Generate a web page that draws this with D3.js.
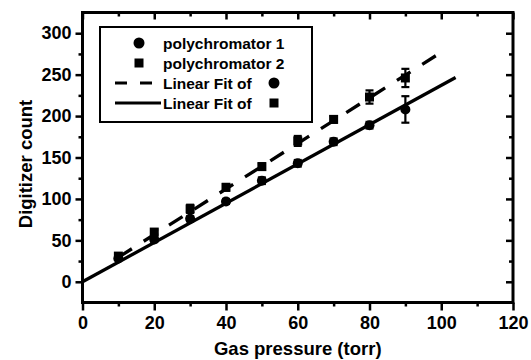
<!DOCTYPE html>
<html><head><meta charset="utf-8">
<script src="https://cdn.jsdelivr.net/npm/d3@7"></script>
<style>body{margin:0;background:#fff}svg text{font-family:"Liberation Sans",Arial,sans-serif;font-weight:bold;fill:#000}</style>
</head><body>
<svg id="c" width="531" height="360"></svg>
<script>
const pressure = [10, 20, 30, 40, 50, 60, 70, 80, 90];
const poly1 = [28, 51, 76, 97, 122, 143, 169, 189, 208];
const poly1Err = [2, 3, 3, 3, 4, 4, 4, 4, 16];
const poly2 = [31, 60, 88, 114, 139, 170, 196, 223, 246];
const poly2Err = [2, 3, 5, 4, 4, 6, 4, 8, 11];
const fitSolid = {slope: 2.37, intercept: 0, x0: 0, x1: 104};
const fitDashed = {slope: 2.75, intercept: 2, x0: 10, x1: 101};
const xTicks = [0, 20, 40, 60, 80, 100, 120];
const xMinor = [10, 30, 50, 70, 90, 110];
const yTicks = [0, 50, 100, 150, 200, 250, 300];
const yMinor = [25, 75, 125, 175, 225, 275];
const legendLabels = ["polychromator 1", "polychromator 2", "Linear Fit of", "Linear Fit of"];

const svg = d3.select("#c");
const L = 82.5, R = 513, T = 12.5, B = 302.5;
const x = d3.scaleLinear().domain([0, 120]).range([L, R]);
const y = d3.scaleLinear().domain([-25, 325]).range([B, T]);

// axes
svg.append("g").attr("transform", `translate(0,${B})`)
  .call(d3.axisBottom(x).tickValues(xTicks).tickSize(8).tickPadding(6));
svg.append("g").attr("transform", `translate(0,${B})`)
  .call(d3.axisBottom(x).tickValues(xMinor).tickSize(4).tickFormat(""));
svg.append("g").attr("transform", `translate(${L},0)`)
  .call(d3.axisLeft(y).tickValues(yTicks).tickSize(7).tickPadding(4));
svg.append("g").attr("transform", `translate(${L},0)`)
  .call(d3.axisLeft(y).tickValues(yMinor).tickSize(4).tickFormat(""));
svg.append("g").attr("transform", `translate(0,${T})`)
  .call(d3.axisBottom(x).tickValues(xTicks).tickSize(7).tickFormat(""));
svg.append("g").attr("transform", `translate(0,${T})`)
  .call(d3.axisBottom(x).tickValues(xMinor).tickSize(4).tickFormat(""));
svg.append("g").attr("transform", `translate(${R},0)`)
  .call(d3.axisLeft(y).tickValues(yTicks).tickSize(7).tickFormat(""));
svg.append("g").attr("transform", `translate(${R},0)`)
  .call(d3.axisLeft(y).tickValues(yMinor).tickSize(4).tickFormat(""));
svg.selectAll(".domain").remove();
svg.selectAll(".tick line").attr("stroke", "#000").attr("stroke-width", 2.5);
svg.selectAll(".tick text").style("font-size", "18px").style("font-family", '"Liberation Sans",Arial,sans-serif').style("font-weight", "bold");

svg.append("rect").attr("x", L).attr("y", T).attr("width", R - L).attr("height", B - T)
  .attr("fill", "none").attr("stroke", "#000").attr("stroke-width", 3);

// titles
svg.append("text").attr("x", (L + R) / 2).attr("y", 355).attr("text-anchor", "middle")
  .style("font-size", "18.5px").text("Gas pressure (torr)");
svg.append("text").attr("transform", "translate(32,164) rotate(-90)").attr("text-anchor", "middle")
  .style("font-size", "18.5px").text("Digitizer count");

// fit lines
const line = d3.line().x(d => x(d[0])).y(d => y(d[1]));
function fitPts(f){ return [[f.x0, f.intercept + f.slope * f.x0], [f.x1, f.intercept + f.slope * f.x1]]; }
svg.append("path").attr("d", line(fitPts(fitSolid))).attr("stroke", "#000").attr("stroke-width", 3.3).attr("fill", "none");
svg.append("path").attr("d", line(fitPts(fitDashed))).attr("stroke", "#000").attr("stroke-width", 3.3)
  .attr("stroke-dasharray", "16,14").attr("fill", "none");

// error bars
function errorBars(vals, errs){
  const g = svg.append("g").attr("stroke", "#000").attr("stroke-width", 2.2);
  pressure.forEach((p, i) => {
    const cx = x(p), y1 = y(vals[i] - errs[i]), y2 = y(vals[i] + errs[i]);
    g.append("line").attr("x1", cx).attr("x2", cx).attr("y1", y1).attr("y2", y2);
    g.append("line").attr("x1", cx - 4).attr("x2", cx + 4).attr("y1", y1).attr("y2", y1);
    g.append("line").attr("x1", cx - 4).attr("x2", cx + 4).attr("y1", y2).attr("y2", y2);
  });
}
errorBars(poly1, poly1Err);
errorBars(poly2, poly2Err);

// markers
svg.append("g").selectAll("circle").data(pressure).join("circle")
  .attr("cx", d => x(d)).attr("cy", (d, i) => y(poly1[i])).attr("r", 5).attr("fill", "#000");
svg.append("g").selectAll("rect").data(pressure).join("rect")
  .attr("x", d => x(d) - 4.5).attr("y", (d, i) => y(poly2[i]) - 4.5).attr("width", 9).attr("height", 9).attr("fill", "#000");

// legend
const lg = svg.append("g");
lg.append("rect").attr("x", 100).attr("y", 27).attr("width", 212).attr("height", 95)
  .attr("fill", "#fff").attr("stroke", "#000").attr("stroke-width", 2);
const rows = [43, 63, 83, 103];
legendLabels.forEach((t, i) => {
  lg.append("text").attr("x", 163).attr("y", rows[i]).attr("dy", "0.36em").style("font-size", "15.5px").text(t);
});
lg.append("circle").attr("cx", 139).attr("cy", rows[0]).attr("r", 5.5).attr("fill", "#000");
lg.append("rect").attr("x", 134.5).attr("y", rows[1] - 4.5).attr("width", 9).attr("height", 9).attr("fill", "#000");
lg.append("line").attr("x1", 115).attr("x2", 153).attr("y1", rows[2]).attr("y2", rows[2])
  .attr("stroke", "#000").attr("stroke-width", 3).attr("stroke-dasharray", "12,13");
lg.append("line").attr("x1", 115).attr("x2", 161).attr("y1", rows[3]).attr("y2", rows[3])
  .attr("stroke", "#000").attr("stroke-width", 3);
lg.append("circle").attr("cx", 274).attr("cy", rows[2]).attr("r", 5.5).attr("fill", "#000");
lg.append("rect").attr("x", 269.5).attr("y", rows[3] - 4.5).attr("width", 9).attr("height", 9).attr("fill", "#000");
</script>
</body></html>
